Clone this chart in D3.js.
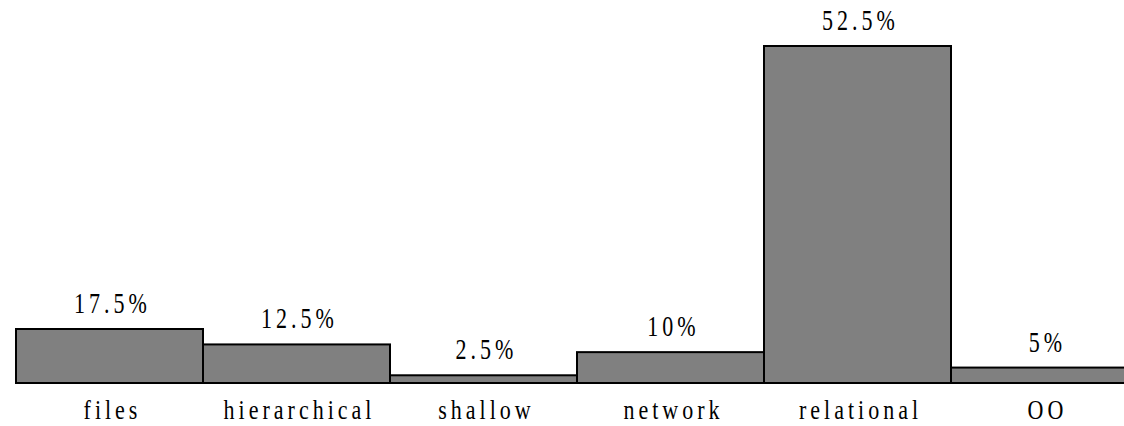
<!DOCTYPE html>
<html>
<head>
<meta charset="utf-8">
<script src="https://cdn.jsdelivr.net/npm/d3@7"></script>
<style>
  body { margin: 0; background: #fff; }
  text { font-family: "Liberation Serif", "Times New Roman", serif; font-size: 22px; letter-spacing: 4px; fill: #000; }
</style>
</head>
<body>
<svg id="chart" width="1124" height="426"></svg>
<script>
// chart data
let categories = ["files", "hierarchical", "shallow", "network", "relational", "OO"];
let shares = [17.5, 12.5, 2.5, 10, 52.5, 5];
let shareLabels = ["17.5%", "12.5%", "2.5%", "10%", "52.5%", "5%"];

let svg = d3.select("#chart");

let baseline = 383;

let x = d3.scaleBand()
    .domain(categories)
    .range([16, 16 + 187 * categories.length])
    .padding(0);

// the original figure stretches the tallest bar, so the value scale is piecewise
let y = d3.scaleLinear()
    .domain([0, 17.5, 52.5])
    .range([baseline, 329, 46]);

// bars
svg.selectAll(".bar")
    .data(categories)
    .join("rect")
    .attr("class", "bar")
    .attr("x", d => x(d))
    .attr("y", (d, i) => y(shares[i]))
    .attr("width", x.bandwidth())
    .attr("height", (d, i) => baseline - y(shares[i]))
    .attr("fill", "#808080")
    .attr("stroke", "#000")
    .attr("stroke-width", 2);

// baseline
svg.append("line")
    .attr("x1", 16)
    .attr("x2", 1124)
    .attr("y1", baseline)
    .attr("y2", baseline)
    .attr("stroke", "#000")
    .attr("stroke-width", 2.2);

// value labels (glyphs are tall and narrow in the original)
svg.selectAll(".value")
    .data(categories)
    .join("text")
    .attr("class", "value")
    .attr("text-anchor", "middle")
    .attr("transform", (d, i) => "translate(" + (x(d) + x.bandwidth() / 2 + 3) + "," + (y(shares[i]) - 16) + ") scale(1,1.3)")
    .text((d, i) => shareLabels[i]);

// category labels
svg.selectAll(".cat")
    .data(categories)
    .join("text")
    .attr("class", "cat")
    .attr("text-anchor", "middle")
    .attr("transform", d => "translate(" + (x(d) + x.bandwidth() / 2 + 3) + ",419) scale(1,1.25)")
    .text(d => d);
</script>
</body>
</html>
